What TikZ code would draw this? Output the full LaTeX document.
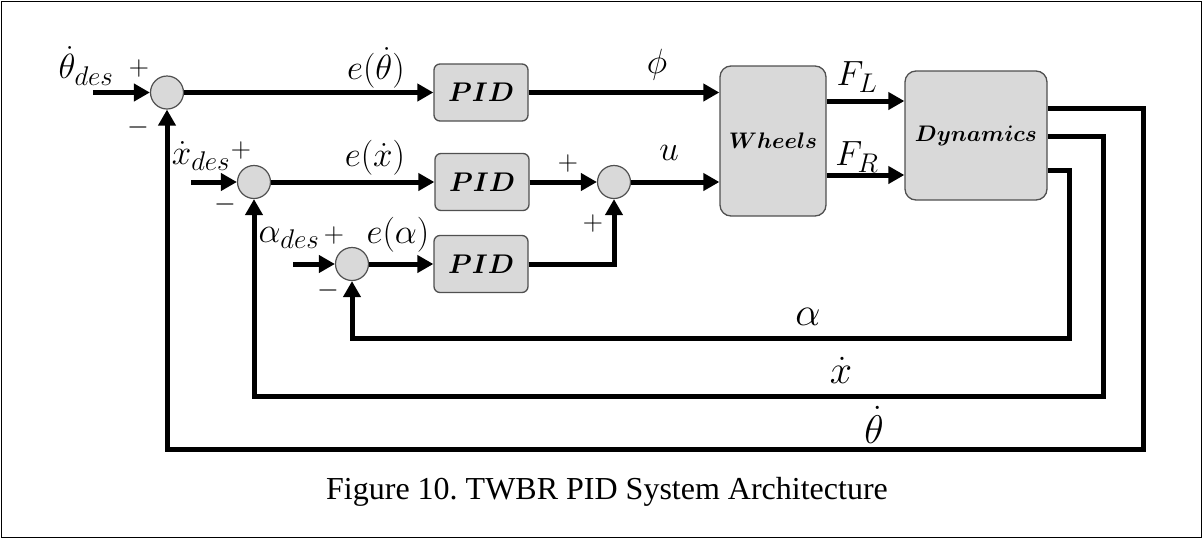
\RequirePackage{fix-cm}
\documentclass[tikz,border=0pt]{standalone}
\usepackage{bm}
\usepackage{fontspec}
\newfontfamily\capfont{Liberation Serif}
\DeclareMathSizes{35}{35}{27}{20}
\usetikzlibrary{arrows.meta}
\definecolor{blockgray}{HTML}{D9D9D9}
\definecolor{edgegray}{HTML}{505050}
\tikzset{
  sumnode/.style={circle,draw=edgegray,line width=1.2pt,fill=blockgray,minimum size=33pt,inner sep=0pt},
  pidbox/.style={rectangle,rounded corners=6pt,draw=edgegray,line width=1.3pt,fill=blockgray,
    minimum width=94pt,minimum height=57pt,inner sep=0pt,font=\fontsize{27}{31}\selectfont},
  bigbox/.style={pidbox,rounded corners=11pt,font=\fontsize{22.5}{26}\selectfont},
  sig/.style={line width=5pt,-{Triangle[length=16pt,width=17pt]}},
  lbl/.style={inner sep=0pt,font=\fontsize{35}{40}\selectfont},
  fblbl/.style={inner sep=0pt,font=\fontsize{40}{46}\selectfont},
  sgn/.style={inner sep=0pt,font=\fontsize{28}{32}\selectfont},
}
\begin{document}
\begin{tikzpicture}[x=1pt,y=-1pt]
  \useasboundingbox (0,0) rectangle (1203,539);
  \draw[line width=1.8pt] (1.5,1.5) rectangle (1201.5,537.5);

  \node[sumnode] (s1) at (167,92.5) {};
  \node[sumnode] (s2) at (254,182) {};
  \node[sumnode] (s3) at (614,182) {};
  \node[sumnode] (s4) at (352,264) {};
  \node[pidbox] (pid1) at (481,92.5) {$\bm{PID}$};
  \node[pidbox] (pid2) at (482,182) {$\bm{PID}$};
  \node[pidbox] (pid3) at (481,264) {$\bm{PID}$};
  \node[bigbox,minimum width=106pt,minimum height=150pt] (wh) at (773,141) {$\bm{Wheels}$};
  \node[bigbox,minimum width=142pt,minimum height=129pt] (dyn) at (976,135.5) {$\bm{Dynamics}$};

  \coordinate (in1) at (93,92.5);
  \coordinate (in2) at (191,182);
  \coordinate (in4) at (293,264);

  \node[lbl] (thdes) at (86,66) {$\dot{\theta}_{des}$};
  \node[lbl] (xdes) at (201,156) {$\dot{x}_{des}$};
  \node[lbl] (ades) at (289,238) {$\alpha_{des}$};
  \node[sgn] (p1) at (139,68) {$+$};
  \node[sgn] (m1) at (138,127) {$-$};
  \node[sgn] (p2) at (241,150) {$+$};
  \node[sgn] (m2) at (225,204) {$-$};
  \node[sgn] (p4) at (334,235) {$+$};
  \node[sgn] (m4) at (328,290) {$-$};
  \node[sgn] (p3a) at (568,163) {$+$};
  \node[sgn] (p3b) at (593,223) {$+$};
  \node[lbl] (eth) at (376,68) {$e(\dot{\theta})$};
  \node[lbl] (ex) at (375,158) {$e(\dot{x})$};
  \node[lbl] (ea) at (398,235) {$e(\alpha)$};
  \node[lbl] (phi) at (657,65) {$\phi$};
  \node[lbl] (u) at (669,153) {$u$};
  \node[lbl] (fl) at (857,77) {$F_L$};
  \node[lbl] (fr) at (857,157) {$F_R$};
  \node[fblbl] (la) at (808,317) {$\alpha$};
  \node[fblbl] (lx) at (841,370) {$\dot{x}$};
  \node[fblbl] (lth) at (874,425) {$\dot{\theta}$};

  \begin{scope}[sig]
    \draw (in1) -- (s1);
    \draw (in2) -- (s2);
    \draw (in4) -- (s4);
    \draw (s1) -- (pid1);
    \draw (s2) -- (pid2);
    \draw (s4) -- (pid3);
    \draw (pid1) -- (wh.west |- pid1);
    \draw (pid2) -- (s3);
    \draw (pid3) -| (s3);
    \draw (s3) -- (wh.west |- s3);
    \draw (wh.east |- 0,101) -- (dyn.west |- 0,101);
    \draw (wh.east |- 0,175) -- (dyn.west |- 0,175);
    \draw (dyn.east |- 0,108) -| (1143,449) -| (s1);
    \draw (dyn.east |- 0,136) -| (1103,396) -| (s2);
    \draw (dyn.east |- 0,170) -| (1069,338) -| (s4);
  \end{scope}

  \node[anchor=base,inner sep=0pt,font=\capfont\fontsize{32}{36}\selectfont] (cap) at (607,499)
    {Figure 10.\ TWBR PID System Architecture};
\end{tikzpicture}
\end{document}
